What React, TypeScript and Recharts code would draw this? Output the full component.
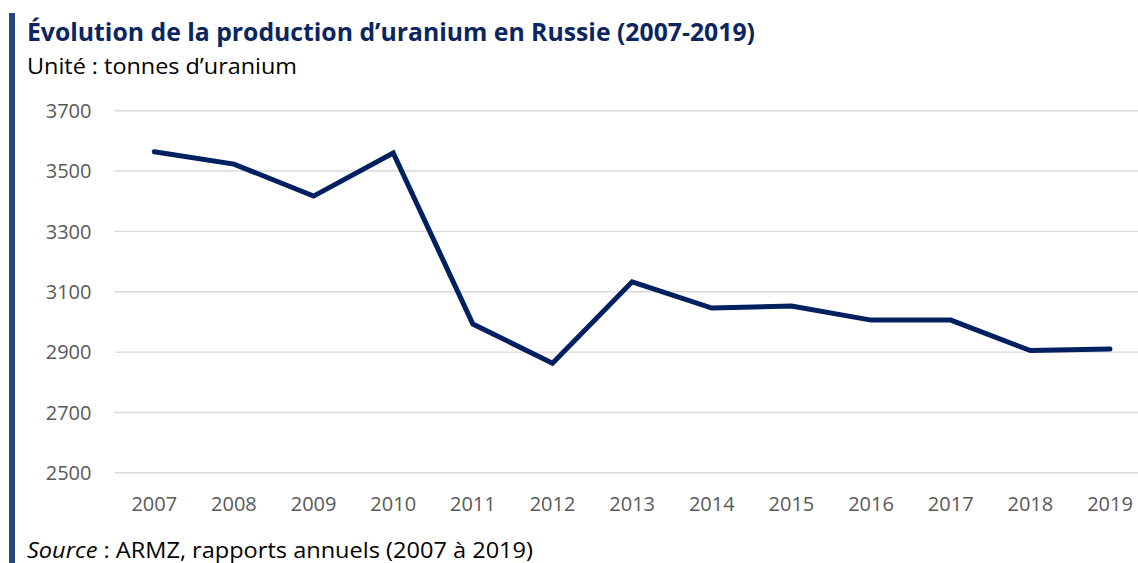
import React from 'react';
import { LineChart, Line, XAxis, YAxis, CartesianGrid } from 'recharts';

const years = ['2007', '2008', '2009', '2010', '2011', '2012', '2013', '2014', '2015', '2016', '2017', '2018', '2019'];
const production = [3564, 3523, 3417, 3560, 2993, 2863, 3133, 3046, 3053, 3006, 3006, 2905, 2910];
const yTicks = [2500, 2700, 2900, 3100, 3300, 3500, 3700];

const title = 'Évolution de la production d\u2019uranium en Russie (2007-2019)';
const subtitle = 'Unité : tonnes d\u2019uranium';
const sourceLabel = 'Source';
const sourceText = ' : ARMZ, rapports annuels (2007 à 2019)';

const data = years.map((year, i) => ({ year, production: production[i] }));

const FONT = '"Open Sans", "Noto Sans", sans-serif';

export default function App() {
  return (
    <div style={{ position: 'absolute', left: 0, top: 0, width: 1138, height: 563, overflow: 'hidden', background: '#ffffff' }}>
      <div style={{ position: 'absolute', left: 9, top: 13, width: 6, height: 560, background: '#22497d' }} />
      <div style={{ position: 'absolute', left: 0, top: 0 }}>
        <LineChart width={1138} height={563} data={data} margin={{ top: 110.7, right: 0, bottom: 0, left: 0 }}>
          <CartesianGrid horizontal vertical={false} stroke="#d9d9d9" strokeWidth={1.4} />
          <XAxis
            dataKey="year"
            axisLine={false}
            tickLine={false}
            tickSize={0}
            tickMargin={24}
            height={90.2}
            interval={0}
            padding={{ left: 39.8, right: 28 }}
            tick={{ fill: '#595959', fontSize: 20, fontFamily: FONT }}
          />
          <YAxis
            domain={[2500, 3700]}
            ticks={yTicks}
            axisLine={false}
            tickLine={false}
            tickSize={0}
            tickMargin={23}
            width={114.5}
            interval={0}
            tick={{ fill: '#595959', fontSize: 20, fontFamily: FONT }}
          />
          <Line
            type="linear"
            dataKey="production"
            stroke="#002060"
            strokeWidth={5}
            strokeLinecap="round"
            strokeLinejoin="miter"
            dot={false}
            activeDot={false}
            isAnimationActive={false}
          />
        </LineChart>
      </div>
      <svg width={1138} height={563} style={{ position: 'absolute', left: 0, top: 0, pointerEvents: 'none' }}>
        <text x={27} y={41} fontFamily={FONT} fontWeight="bold" fontSize={25} fill="#0b2560" textLength={728} lengthAdjust="spacingAndGlyphs">
          {title}
        </text>
        <text x={27} y={74} fontFamily={FONT} fontSize={21} fill="#000000" textLength={270} lengthAdjust="spacingAndGlyphs">
          {subtitle}
        </text>
        <text x={27} y={558} fontFamily={FONT} fontSize={21} fill="#000000" textLength={506} lengthAdjust="spacingAndGlyphs">
          <tspan fontStyle="italic">{sourceLabel}</tspan>
          <tspan>{sourceText}</tspan>
        </text>
      </svg>
    </div>
  );
}
